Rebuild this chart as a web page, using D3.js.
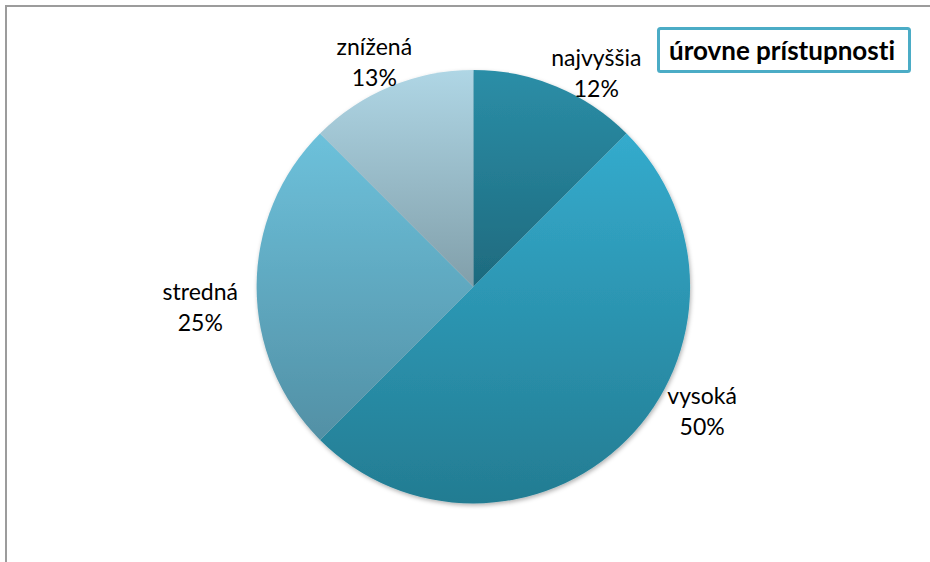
<!DOCTYPE html>
<html>
<head>
<meta charset="utf-8">
<script src="https://cdn.jsdelivr.net/npm/d3@7"></script>
<style>
  html, body { margin: 0; padding: 0; background: #fff; }
  svg { display: block; font-family: Lato, "Open Sans", sans-serif; }
  svg text { font-variant-ligatures: none; font-feature-settings: "liga" 0, "clig" 0; }
</style>
</head>
<body>
<div id="chart"></div>
<script>
// slice data, clockwise from 12 o'clock
const categories = ["najvyššia", "vysoká", "stredná", "znížená"];
const values = [1, 4, 2, 1];
const percentLabels = ["12%", "50%", "25%", "13%"];
const chartTitle = "úrovne prístupnosti";

const CONFIG = {
    width: 930,
    height: 562,
    cx: 473.3,
    cy: 286.7,
    radius: 216.7,
    labelRadius: 243,
    fontSize: 23,
    lineGap: 31,
    // Excel "best fit" nudges from the label anchor on the mid angle
    labelNudge: {
        "najvyššia": [30, 11],
        "vysoká": [57, -47],
        "stredná": [-30, 21],
        "znížená": [-6, 0]
    },
    gradients: [
        ["#2b8ea7", "#1e6a7e"],
        ["#34abcd", "#237c92"],
        ["#6dc1db", "#5290a5"],
        ["#afd6e5", "#819faa"]
    ]
};

const svg = d3.select("#chart")
    .append("svg")
    .attr("width", CONFIG.width)
    .attr("height", CONFIG.height);

const defs = svg.append("defs");

CONFIG.gradients.forEach((stops, i) => {
    const g = defs.append("linearGradient")
        .attr("id", `grad${i}`)
        .attr("x1", 0).attr("y1", 0)
        .attr("x2", 0).attr("y2", 1);
    g.append("stop").attr("offset", "0%").attr("stop-color", stops[0]);
    g.append("stop").attr("offset", "100%").attr("stop-color", stops[1]);
});

const shadow = defs.append("filter")
    .attr("id", "shadow")
    .attr("x", "-10%").attr("y", "-10%")
    .attr("width", "120%").attr("height", "120%");
shadow.append("feDropShadow")
    .attr("dx", 1).attr("dy", 2)
    .attr("stdDeviation", 2)
    .attr("flood-color", "#000")
    .attr("flood-opacity", 0.3);

// chart area frame (only top and left edges visible)
svg.append("line")
    .attr("x1", 6).attr("y1", 6)
    .attr("x2", CONFIG.width).attr("y2", 6)
    .attr("stroke", "#9c9c9c").attr("stroke-width", 2);
svg.append("line")
    .attr("x1", 6).attr("y1", 5)
    .attr("x2", 6).attr("y2", CONFIG.height)
    .attr("stroke", "#9c9c9c").attr("stroke-width", 2);

const pie = d3.pie().sort(null).value(d => d.value);
const data = categories.map((c, i) => ({ name: c, value: values[i], pct: percentLabels[i], idx: i }));
const arcs = pie(data);

const arc = d3.arc().innerRadius(0).outerRadius(CONFIG.radius);
const labelArc = d3.arc().innerRadius(CONFIG.labelRadius).outerRadius(CONFIG.labelRadius);

const g = svg.append("g")
    .attr("transform", `translate(${CONFIG.cx},${CONFIG.cy})`);

g.append("g")
    .attr("filter", "url(#shadow)")
    .selectAll("path")
    .data(arcs)
    .join("path")
    .attr("d", arc)
    .attr("fill", d => `url(#grad${d.data.idx})`);

const labels = g.selectAll("text.label")
    .data(arcs)
    .join("text")
    .attr("class", "label")
    .attr("text-anchor", "middle")
    .attr("font-size", CONFIG.fontSize)
    .attr("fill", "#000")
    .attr("transform", d => {
        const [x, y] = labelArc.centroid(d);
        const [nx, ny] = CONFIG.labelNudge[d.data.name];
        return `translate(${x + nx},${y + ny})`;
    });

labels.append("tspan")
    .attr("x", 0)
    .attr("y", -CONFIG.lineGap / 2 + 8)
    .text(d => d.data.name);
labels.append("tspan")
    .attr("x", 0)
    .attr("y", CONFIG.lineGap / 2 + 8)
    .text(d => d.data.pct);

// title box
const title = svg.append("g");
title.append("rect")
    .attr("x", 658.5).attr("y", 28.5)
    .attr("width", 251).attr("height", 43)
    .attr("rx", 2)
    .attr("fill", "#fff")
    .attr("stroke", "#4bacc6")
    .attr("stroke-width", 3);
title.append("text")
    .attr("x", 782).attr("y", 60)
    .attr("text-anchor", "middle")
    .attr("font-size", 26)
    .attr("font-weight", "bold")
    .attr("fill", "#000")
    .text(chartTitle);
</script>
</body>
</html>
